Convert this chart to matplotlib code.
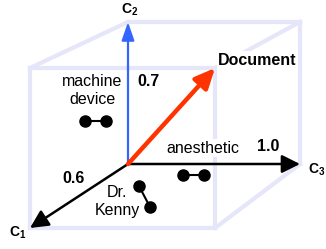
import numpy as np
import matplotlib.pyplot as plt
from matplotlib.patches import FancyArrowPatch

plt.rcParams['font.family'] = ['Liberation Sans', 'DejaVu Sans']
plt.rcParams['mathtext.fontset'] = 'custom'
plt.rcParams['mathtext.rm'] = 'Liberation Sans'
plt.rcParams['mathtext.bf'] = 'Liberation Sans:bold'

# concept axes and document weights
axis_names = [r'$\mathbf{C_1}$', r'$\mathbf{C_2}$', r'$\mathbf{C_3}$']
doc_weights = ['0.6', '0.7', '1.0']
doc_label = 'Document'
terms = ['machine\ndevice', 'anesthetic', 'Dr.\nKenny']

# unit cube corners (c1, c2, c3)
cube_edges = [
    ((1, 0, 0), (1, 1, 0)), ((1, 1, 0), (1, 1, 1)), ((1, 1, 1), (1, 0, 1)), ((1, 0, 1), (1, 0, 0)),
    ((0, 1, 0), (0, 1, 1)), ((0, 1, 1), (0, 0, 1)),
    ((1, 1, 0), (0, 1, 0)), ((1, 1, 1), (0, 1, 1)), ((1, 0, 1), (0, 0, 1)),
]

# screen layout of back face (c1=0) and front face (c1=1): x0, x1, ybottom, ytop
back = (128, 300, 164, 22)
front = (30, 215, 228, 68)


def proj(p):
    c1, c2, c3 = p
    bx = back[0] + c3 * (back[1] - back[0])
    by = back[2] + c2 * (back[3] - back[2])
    fx = front[0] + c3 * (front[1] - front[0])
    fy = front[2] + c2 * (front[3] - front[2])
    return bx + c1 * (fx - bx), by + c1 * (fy - by)


fig = plt.figure(figsize=(3.26, 2.49), dpi=100)
ax = fig.add_axes([0, 0, 1, 1])
ax.set_xlim(0, 326)
ax.set_ylim(249, 0)
ax.axis('off')

lav = '#E6E6FA'
for a, b in cube_edges:
    pa, pb = proj(a), proj(b)
    ax.plot([pa[0], pb[0]], [pa[1], pb[1]], color=lav, lw=3, solid_capstyle='projecting', zorder=1)


def arrow(p0, p1, color, lw, hl, hw):
    ar = FancyArrowPatch(proj(p0), proj(p1), arrowstyle='-|>,head_length=%s,head_width=%s' % (hl, hw),
                         mutation_scale=10, color=color, lw=lw, shrinkA=0, shrinkB=0, zorder=4)
    ax.add_patch(ar)


o = (0, 0, 0)
arrow(o, (0, 1, 0), '#3366FF', 1.6, 1.1, 0.38)
arrow(o, (0, 0, 1), 'black', 1.8, 1.1, 0.55)
arrow(o, (1, 0, 0), 'black', 1.8, 1.1, 0.55)
arrow(o, (1, 1, 1), '#FF3300', 3.2, 1.2, 0.55)

fs = 11.5
ax.text(18, 233, axis_names[0], fontsize=10, ha='center', va='center')
ax.text(130, 10, axis_names[1], fontsize=10, ha='center', va='center')
ax.text(317, 170, axis_names[2], fontsize=10, ha='center', va='center')

ax.text(218, 60, doc_label, fontsize=fs, fontweight='bold', ha='left', va='center', zorder=3,
        bbox=dict(facecolor='white', edgecolor='none', pad=1))
ax.text(74, 178, doc_weights[0], fontsize=fs, fontweight='bold', ha='center', va='center')
ax.text(149, 81, doc_weights[1], fontsize=fs, fontweight='bold', ha='center', va='center')
ax.text(268, 146, doc_weights[2], fontsize=fs, fontweight='bold', ha='center', va='center')

ax.text(92, 90, terms[0], fontsize=fs, ha='center', va='center', linespacing=1.25)
ax.text(203, 148, terms[1], fontsize=fs, ha='center', va='center', zorder=3,
        bbox=dict(facecolor='white', edgecolor='none', pad=1))
ax.text(117, 201, terms[2], fontsize=fs, ha='center', va='center', linespacing=1.25)

# term dumbbells
pairs = [((85, 106), (121, 121)), ((183, 204), (175, 175)), ((139, 150), (186, 207))]
for xs, ys in pairs:
    ax.plot(xs, ys, color='black', lw=1.5, marker='o', markersize=8, zorder=5)

fig.savefig('out.png', dpi=100)
